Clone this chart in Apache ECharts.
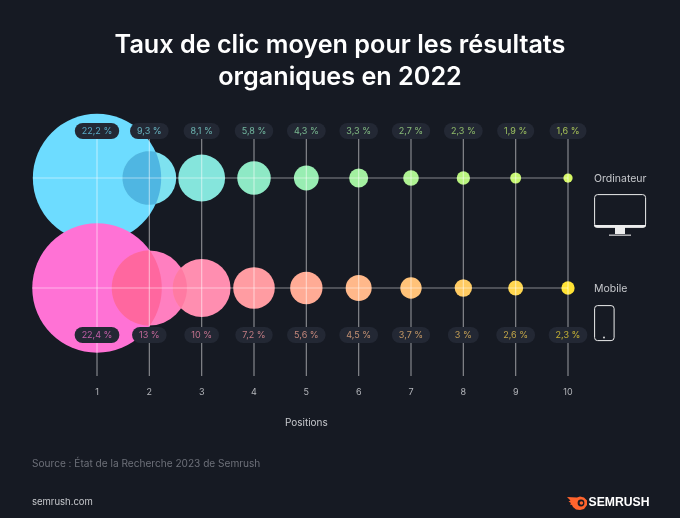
<!DOCTYPE html>
<html><head><meta charset="utf-8">
<style>html,body{margin:0;padding:0;background:#161a23}#c{width:680px;height:518px}</style>
<script src="https://cdn.jsdelivr.net/npm/echarts@6/dist/echarts.min.js"></script>
</head><body><div id="c"></div>
<script>
const positions = [1,2,3,4,5,6,7,8,9,10];
const desktopValues = [22.2,9.3,8.1,5.8,4.3,3.3,2.7,2.3,1.9,1.6];
const mobileValues = [22.4,13,10,7.2,5.6,4.5,3.7,3,2.6,2.3];
const desktopColors = ['#6ddcff','#7ee2f0','#85e5dc','#8ee9c5','#98edb2','#a3f0a0','#aef292','#b9f47e','#c6f670','#d6f864'];
const mobileColors = ['#ff72d5','#ff7fc0','#ff8eb0','#ff9ca2','#ffab95','#ffb88a','#ffc278','#ffcb62','#ffd64f','#ffe234'];
const rowNames = ['Ordinateur','Mobile'];
const overlaps = [[0,0,1,'#4fb6e2'],[1,0,1,'#ff679f'],[1,1,2,'#ff7aa2']];

const FONT = 'Inter, sans-serif';
const BG = '#161a23';
const k = 2.89;
const ROW_TOP = 1, ROW_BOT = 0;
const Y_MIN = -0.8, Y_MAX = 1.4273;
const PILL_TOP = 1.4273, PILL_BOT = -0.4273;
const rowVals = [desktopValues, mobileValues];
const rowY = [ROW_TOP, ROW_BOT];

function rgba(hex,a){const n=parseInt(hex.slice(1),16);return `rgba(${n>>16},${(n>>8)&255},${n&255},${a})`;}

function bubbles(vals,cols,y){
  return {type:'scatter',z:2,silent:true,symbolSize:d=>2*k*d[2],
    data:vals.map((v,i)=>({value:[positions[i],y,v],itemStyle:{color:cols[i],opacity:1}}))};
}
function pills(vals,cols,y){
  return {type:'scatter',z:6,silent:true,clip:false,symbolSize:1,itemStyle:{color:'rgba(0,0,0,0)',opacity:1},
    data:vals.map((v,i)=>({value:[positions[i],y,v],itemStyle:{color:'rgba(0,0,0,0)',opacity:1},label:{
      show:true,position:'inside',formatter:String(v).replace('.',',')+' %',opacity:1,
      color:rgba(cols[i],0.72),fontFamily:FONT,fontSize:9,
      backgroundColor:'#232834',borderRadius:8,padding:[3.5,7,3.5,7]}}))};
}
const gridLine = {color:'rgba(255,255,255,0.48)',width:1.2};
const vLines = positions.map(p=>({type:'line',z:4,silent:true,clip:false,symbol:'none',
  lineStyle:gridLine,data:[[p,Y_MIN],[p,Y_MAX]]}));
const hLines = rowNames.map((name,r)=>({type:'line',z:4,silent:true,clip:false,symbol:'none',name,
  lineStyle:gridLine,data:[[positions[0],rowY[r]],[positions[9],rowY[r]]],
  endLabel:{show:true,formatter:name,distance:26,offset:[0,0.5],color:'#c6c8cc',fontFamily:FONT,fontSize:10.5}}));
// the horizontal rule continues to the left edge of the first bubble
const hLead = {type:'custom',z:4,silent:true,clip:false,encode:{x:0,y:1},
  data:rowY.map(y=>[positions[0],y]),
  renderItem(params,api){
    const r=params.dataIndex, c=api.coord([positions[0],rowY[r]]);
    return {type:'line',shape:{x1:c[0]-k*rowVals[r][0],y1:c[1],x2:c[0],y2:c[1]},
      style:{stroke:gridLine.color,lineWidth:gridLine.width}};
  }};

const lensSeries = {type:'custom',z:3,silent:true,clip:false,
  encode:{x:0,y:1},
  data:overlaps.map(o=>[positions[o[1]],rowY[o[0]],o[0],o[1],o[2]]),
  renderItem(params,api){
    const o=overlaps[params.dataIndex];
    const vals=rowVals[o[0]], y=rowY[o[0]];
    const a=api.coord([positions[o[1]],y]), b=api.coord([positions[o[2]],y]);
    const r1=k*vals[o[1]], r2=k*vals[o[2]], d=b[0]-a[0];
    const m=(d*d+r1*r1-r2*r2)/(2*d);
    const t1=Math.acos(m/r1), t2=Math.acos((d-m)/r2);
    const pts=[]; const N=40;
    for(let i=0;i<=N;i++){const t=-t1+2*t1*i/N;pts.push([a[0]+r1*Math.cos(t),a[1]+r1*Math.sin(t)]);}
    for(let i=0;i<=N;i++){const t=Math.PI-t2+2*t2*i/N;pts.push([b[0]+r2*Math.cos(t),b[1]+r2*Math.sin(t)]);}
    return {type:'polygon',shape:{points:pts},style:{fill:o[3]}};
  }};

const W='#eceded';
const option={
  backgroundColor:BG,animation:false,
  title:{text:'Taux de clic moyen pour les résultats\norganiques en 2022',left:335,top:24,
    textAlign:'center',textStyle:{color:'#fff',fontFamily:FONT,fontSize:25.2,fontWeight:600,lineHeight:32}},
  grid:{left:44.67,width:523.33,top:131,height:245},
  xAxis:{type:'value',min:0,max:10,interval:1,showMinLabel:false,
    name:'Positions',nameLocation:'middle',nameGap:42,
    nameTextStyle:{color:'#c6c8cc',fontFamily:FONT,fontSize:10},
    axisLine:{show:false},axisTick:{show:false},splitLine:{show:false},
    axisLabel:{color:'#b4b6bb',fontFamily:FONT,fontSize:9,margin:12,formatter:v=>v===0?'':String(v)}},
  yAxis:{type:'value',min:Y_MIN,max:Y_MAX,show:false},
  series:[
    bubbles(desktopValues,desktopColors,ROW_TOP),
    bubbles(mobileValues,mobileColors,ROW_BOT),
    lensSeries,
    ...vLines,...hLines,hLead,
    pills(desktopValues,desktopColors,PILL_TOP),
    pills(mobileValues,mobileColors,PILL_BOT)
  ],
  graphic:[
    {type:'text',left:32,top:458.500,style:{text:'Source : État de la Recherche 2023 de Semrush',fill:'#6d7079',font:'10.1px '+FONT}},
    {type:'text',left:32,top:497,style:{text:'semrush.com',fill:'#c6c8cc',font:'9.5px '+FONT}},
    {type:'rect',shape:{x:594.6,y:194.6,width:51,height:32.5,r:3},style:{fill:'none',stroke:W,lineWidth:1}},
    {type:'rect',shape:{x:594,y:225,width:52,height:2.8,r:[0,0,3,3]},style:{fill:W}},
    {type:'rect',shape:{x:615,y:227,width:10,height:7},style:{fill:W}},
    {type:'rect',shape:{x:609,y:234.6,width:22,height:1.1},style:{fill:W}},
    {type:'rect',shape:{x:594.6,y:305.6,width:19.5,height:35,r:3},style:{fill:'none',stroke:W,lineWidth:1}},
    {type:'circle',shape:{cx:604,cy:337.5,r:0.9},style:{fill:W}},
    {type:'polygon',shape:{points:[[567,497],[577,497.500],[580,496.500],[584,497.500],[587,500.500],[587,505],[584,509],[580,510],[576,509.500],[573,507],[572,505],[570,504.500],[571,503],[568.500,501.500],[570.500,500.500]]},style:{fill:'#ff642d'}},
    {type:'circle',shape:{cx:581,cy:503,r:3.4},style:{fill:BG}},
    {type:'circle',shape:{cx:581.4,cy:503,r:1.8},style:{fill:'#ff642d'}},
    {type:'text',left:588.500,top:497,style:{text:'SEMRUSH',fill:'#fff',font:'700 12.2px "Liberation Sans", sans-serif'}}
  ]
};
echarts.init(document.getElementById('c'),null,{renderer:'canvas'}).setOption(option);
</script></body></html>
